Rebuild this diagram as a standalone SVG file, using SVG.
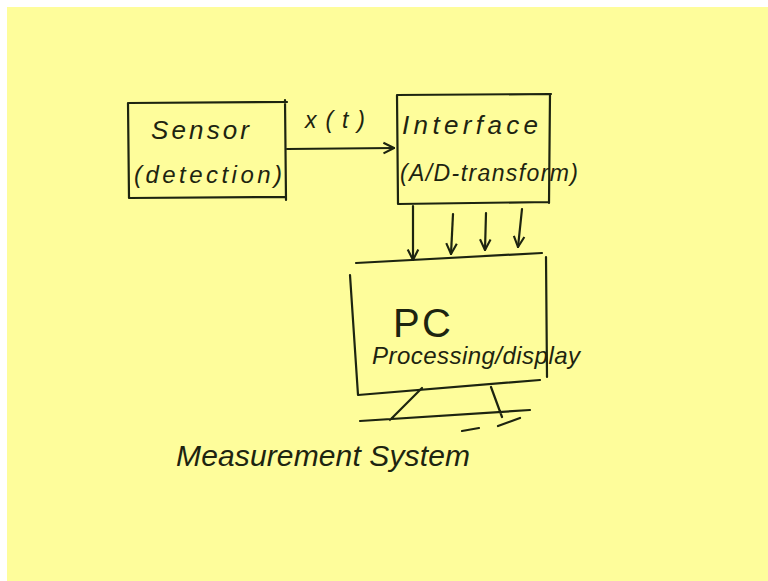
<svg xmlns="http://www.w3.org/2000/svg" width="768" height="581" viewBox="0 0 768 581">
<defs>
<style>
.ln{fill:none;stroke:#1d2410;stroke-width:2.2;stroke-linecap:round;stroke-linejoin:round}
.tx{font-family:"Liberation Sans",Arial,sans-serif;fill:#1d2410;font-style:italic}
</style>
<marker id="ah" viewBox="0 0 10 10" refX="9" refY="5" markerWidth="6" markerHeight="6" orient="auto-start-reverse">
<path d="M1,1 L9,5 L1,9" fill="none" stroke="#1d2410" stroke-width="1.6"/>
</marker>
</defs>
<rect x="0" y="0" width="768" height="581" fill="#ffffff"/>
<rect x="7" y="7" width="761" height="574" fill="#fefd9b"/>
<g id="sensor">
<path class="ln" d="M129,103 L287,102 M128,103 L129,198 L286,197 M285,100 L286,200"/>
<text class="tx" x="151" y="139" font-size="26" textLength="98" lengthAdjust="spacing">Sensor</text>
<text class="tx" x="134" y="183" font-size="24" textLength="148" lengthAdjust="spacing">(detection)</text>
</g>
<g id="interface">
<path class="ln" d="M397,95 L551,94 M397,95 L398,204 L548,202 M550,94 L549,203"/>
<text class="tx" x="402" y="134" font-size="26" textLength="136" lengthAdjust="spacing">Interface</text>
<text class="tx" x="400" y="181" font-size="23" textLength="178" lengthAdjust="spacing">(A/D-transform)</text>
</g>
<g id="pc">
<path class="ln" d="M356,263 L542,253 M350,275 L358,395 L540,380 M546,257 L547,377"/>
<text x="393" y="337" font-size="40" font-family="Liberation Sans,Arial,sans-serif" fill="#1d2410" textLength="58" lengthAdjust="spacing">PC</text>
<text class="tx" x="372" y="364" font-size="24" textLength="208" lengthAdjust="spacing">Processing/display</text>
<path class="ln" d="M422,388 L390,420 M491,387 L502,417 M360,421 L530,410 M462,431 L479,428 M498,426 L520,418"/>
</g>
<g id="caption">
<text class="tx" x="176" y="466" font-size="30" textLength="294" lengthAdjust="spacing">Measurement System</text>
</g>
<g id="connectors">
<path class="ln" d="M287,149 L394,148" marker-end="url(#ah)"/>
<text class="tx" x="305" y="128" font-size="23" textLength="60" lengthAdjust="spacing">x(t)</text>
<path class="ln" d="M413,206 L413,260" marker-end="url(#ah)"/>
<path class="ln" d="M453,214 L451,254" marker-end="url(#ah)"/>
<path class="ln" d="M486,213 L485,250" marker-end="url(#ah)"/>
<path class="ln" d="M522,209 L518,247" marker-end="url(#ah)"/>
</g>
</svg>
